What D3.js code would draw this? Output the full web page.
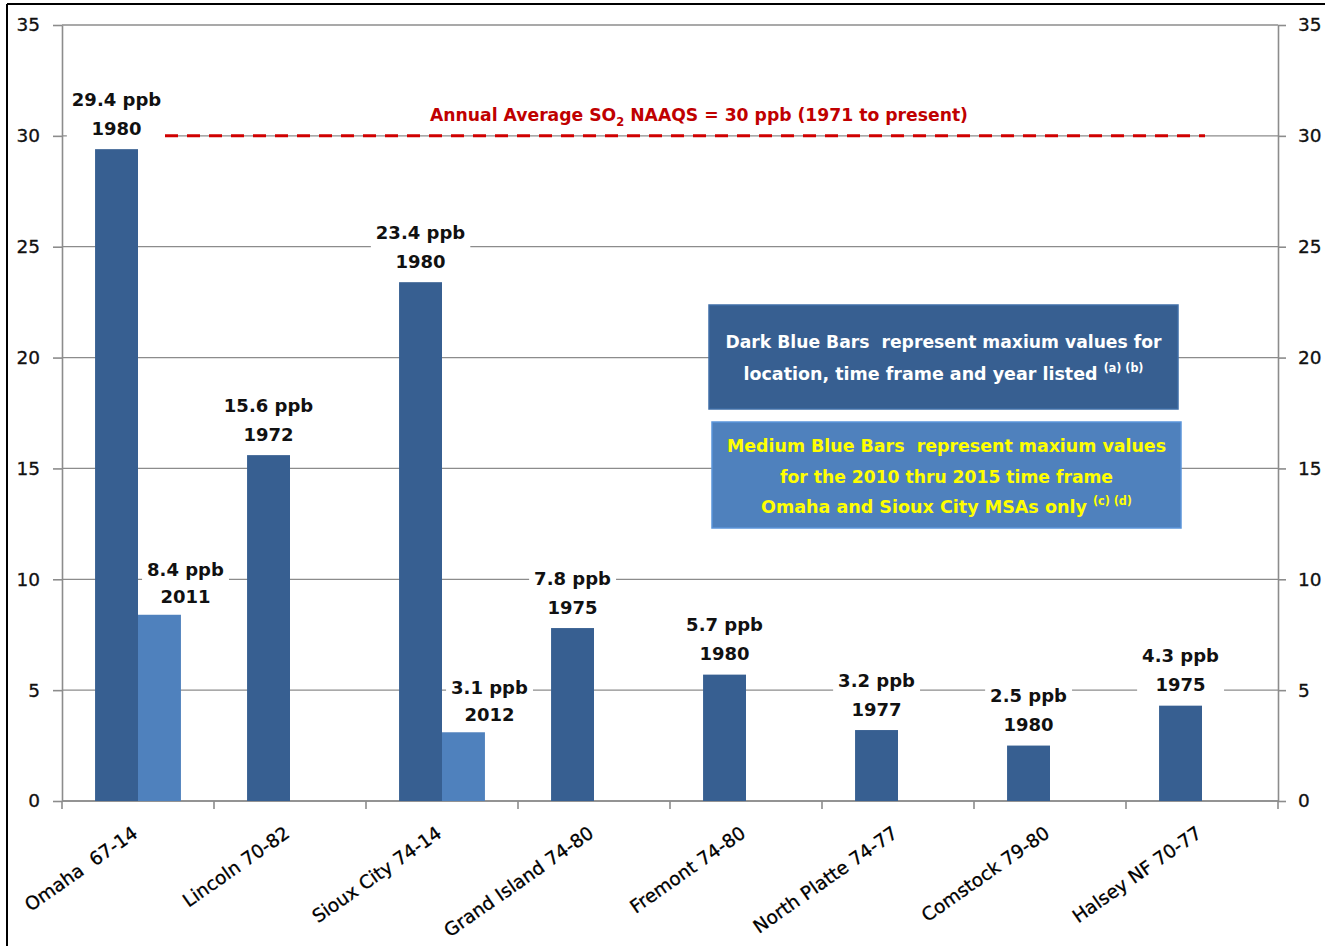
<!DOCTYPE html>
<html>
<head>
<meta charset="utf-8">
<script src="https://d3js.org/d3.v7.min.js"></script>
<style>
  body { margin: 0; background: #fff; }
  svg text { font-family: "DejaVu Sans", sans-serif; white-space: pre; }
</style>
</head>
<body>
<div id="cont"></div>
<script>
// chart data
var categories = ["Omaha  67-14", "Lincoln 70-82", "Sioux City 74-14", "Grand Island 74-80",
                  "Fremont 74-80", "North Platte 74-77", "Comstock 79-80", "Halsey NF 70-77"];
var darkValues = [29.4, 15.6, 23.4, 7.8, 5.7, 3.2, 2.5, 4.3];
var darkYears = ["1980", "1972", "1980", "1975", "1980", "1977", "1980", "1975"];
var mediumValues = [8.4, null, 3.1, null, null, null, null, null];
var mediumYears = ["2011", null, "2012", null, null, null, null, null];
var yTicks = [0, 5, 10, 15, 20, 25, 30, 35];
var standardValue = 30;
var standardText = ["Annual Average SO", "2", " NAAQS = 30 ppb (1971 to present)"];
var darkNote = [["Dark Blue Bars  represent maxium values for", ""],
                ["location, time frame and year listed ", "(a) (b)"]];
var mediumNote = [["Medium Blue Bars  represent maxium values", ""],
                  ["for the 2010 thru 2015 time frame", ""],
                  ["Omaha and Sioux City MSAs only ", "(c) (d)"]];

var darkBlue = "#375f91", mediumBlue = "#4f81bd", gridColor = "#8c8c8c";

var svg = d3.select("#cont").append("svg")
    .attr("width", 1325)
    .attr("height", 946);

var plotL = 62, plotR = 1278, plotB = 801, plotT = 25;

var x0 = d3.scaleBand().domain(categories).range([plotL, plotR]);
var x1 = d3.scaleBand().domain(["dark", "medium"])
    .range([0, x0.bandwidth()]).paddingOuter(0.77);
var y = d3.scaleLinear().domain([0, 35]).range([plotB, plotT]);

// frame (page border)
svg.append("line").attr("x1", 7).attr("x2", 1325).attr("y1", 4).attr("y2", 4)
    .attr("stroke", "#000").attr("stroke-width", 2);
svg.append("line").attr("x1", 7).attr("x2", 7).attr("y1", 4).attr("y2", 946)
    .attr("stroke", "#000").attr("stroke-width", 2);

// gridlines
svg.append("g").selectAll("line").data(yTicks).enter().append("line")
    .attr("x1", plotL).attr("x2", plotR)
    .attr("y1", function (d) { return y(d); })
    .attr("y2", function (d) { return y(d); })
    .attr("stroke", gridColor).attr("stroke-width", 1.3);

// left and right axes
var yl = svg.append("g").attr("transform", "translate(" + plotL + ",0)")
    .call(d3.axisLeft(y).tickValues(yTicks).tickSize(9).tickSizeOuter(0).tickPadding(13));
var yr = svg.append("g").attr("transform", "translate(" + plotR + ",0)")
    .call(d3.axisRight(y).tickValues(yTicks).tickSize(8).tickSizeOuter(0).tickPadding(12));
[yl, yr].forEach(function (a) {
    a.selectAll("path, line").attr("stroke", gridColor).attr("stroke-width", 1.6);
    a.selectAll("text").attr("font-family", "DejaVu Sans").attr("font-size", 18.5)
        .attr("fill", "#111").attr("stroke", "#111").attr("stroke-width", 0.3);
});

// bottom axis
var xb = svg.append("g");
xb.append("line").attr("x1", plotL).attr("x2", plotR).attr("y1", plotB).attr("y2", plotB)
    .attr("stroke", gridColor).attr("stroke-width", 1.6);
xb.selectAll(".tk").data(categories.concat([null])).enter().append("line")
    .attr("x1", function (d) { return d === null ? plotR : x0(d); })
    .attr("x2", function (d) { return d === null ? plotR : x0(d); })
    .attr("y1", plotB).attr("y2", plotB + 8)
    .attr("stroke", gridColor).attr("stroke-width", 1.6);
xb.selectAll("text").data(categories).enter().append("text")
    .attr("transform", function (d) {
        return "translate(" + (x0(d) + x0.bandwidth() / 2 + 1) + "," + 836 + ") rotate(-35)";
    })
    .attr("text-anchor", "end")
    .attr("font-size", 18.5)
    .attr("fill", "#000").attr("stroke", "#000").attr("stroke-width", 0.3)
    .text(function (d) { return d; });

// bars
var rows = categories.map(function (c, i) {
    return { cat: c, dark: darkValues[i], darkYear: darkYears[i],
             medium: mediumValues[i], mediumYear: mediumYears[i] };
});

var groups = svg.append("g").selectAll("g").data(rows).enter().append("g")
    .attr("transform", function (d) { return "translate(" + x0(d.cat) + ",0)"; });

groups.append("rect")
    .attr("x", x1("dark")).attr("width", x1.bandwidth())
    .attr("y", function (d) { return y(d.dark); })
    .attr("height", function (d) { return plotB - y(d.dark); })
    .attr("fill", darkBlue);

groups.filter(function (d) { return d.medium !== null; }).append("rect")
    .attr("x", x1("medium")).attr("width", x1.bandwidth())
    .attr("y", function (d) { return y(d.medium); })
    .attr("height", function (d) { return plotB - y(d.medium); })
    .attr("fill", mediumBlue);

// data labels with white backgrounds
function addLabel(g, cx, barTop, v, yr, off1, off2) {
    var lab = g.append("g");
    var bg = lab.append("rect").attr("fill", "#fff");
    lab.append("text").attr("x", cx).attr("y", barTop - off1)
        .attr("text-anchor", "middle").attr("font-weight", "bold")
        .attr("font-size", 18).attr("fill", "#111")
        .text(v + " ppb");
    lab.append("text").attr("x", cx).attr("y", barTop - off2)
        .attr("text-anchor", "middle").attr("font-weight", "bold")
        .attr("font-size", 18).attr("fill", "#111")
        .text(yr);
    var bb = lab.node().getBBox();
    bg.attr("x", bb.x - 5).attr("y", bb.y - 1).attr("width", bb.width + 10).attr("height", bb.height + 2);
}
groups.each(function (d) {
    var g = d3.select(this);
    addLabel(g, x1("dark") + x1.bandwidth() / 2, y(d.dark), d.dark.toFixed(1), d.darkYear, 43.5, 14.5);
    if (d.medium !== null) {
        addLabel(g, x1("medium") + x1.bandwidth() / 2 + 26, y(d.medium), d.medium.toFixed(1), d.mediumYear, 38.5, 11.5);
    }
});

// standard line
svg.append("line")
    .attr("x1", 165).attr("x2", 1205)
    .attr("y1", y(standardValue)).attr("y2", y(standardValue))
    .attr("stroke", "#d00000").attr("stroke-width", 3)
    .attr("stroke-dasharray", "13,9");

var st = svg.append("text")
    .attr("x", 699).attr("y", y(standardValue) - 15)
    .attr("text-anchor", "middle").attr("font-weight", "bold")
    .attr("font-size", 18).attr("fill", "#c00000")
    .attr("textLength", 538).attr("lengthAdjust", "spacingAndGlyphs");
st.append("tspan").text(standardText[0]);
st.append("tspan").attr("font-size", 12).attr("dy", 5).text(standardText[1]);
st.append("tspan").attr("dy", -5).text(standardText[2]);

// note boxes
function noteBox(x, yy, w, h, fill, color, lines, y0, step, widths) {
    svg.append("rect").attr("x", x).attr("y", yy).attr("width", w).attr("height", h)
        .attr("fill", fill).attr("stroke", d3.color(fill).brighter(0.4)).attr("stroke-width", 1.5);
    lines.forEach(function (ln, i) {
        var t = svg.append("text")
            .attr("x", x + w / 2).attr("y", y0 + i * step)
            .attr("text-anchor", "middle").attr("font-weight", "bold")
            .attr("font-size", 18).attr("fill", color)
            .attr("textLength", widths[i]).attr("lengthAdjust", "spacingAndGlyphs");
        t.append("tspan").text(ln[0]);
        if (ln[1]) t.append("tspan").attr("font-size", 11.5).attr("dy", -8).text(ln[1]);
    });
}
noteBox(709, 305, 469, 104, darkBlue, "#ffffff", darkNote, 348, 32, [436, 400]);
noteBox(712, 422, 469, 106, mediumBlue, "#ffff00", mediumNote, 452, 30.5, [439, 333, 371]);
</script>
</body>
</html>
